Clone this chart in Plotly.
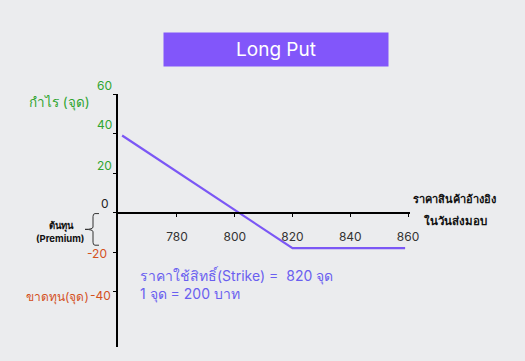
import plotly.graph_objects as go

# ---- data ----
price = [761, 820, 859]          # underlying price at expiry
payoff = [39, -18, -18]          # profit / loss in points
x_ticks = [780, 800, 820, 840, 860]
y_ticks = [60, 40, 20, 0, -20, -40]
y_tick_labels = ["60", "40", "20", "0", "-20", "-40"]
premium_top, premium_bottom = -0.5, -16.5

W, H = 525, 361
ML, MR, MT, MB = 118, 115, 94, 14
PW, PH = W - ML - MR, H - MT - MB

def px(xp):
    return (xp - ML) / PW

def py(yp):
    return (H - MB - yp) / PH

GREEN = "#30a530"
RED = "#d4511d"
PURPLE = "#7b57f5"
TEXTBLUE = "#6a5ff0"
FONT = "Inter, Noto Sans, sans-serif"

fig = go.Figure()
fig.add_trace(go.Scatter(x=price, y=payoff, mode="lines",
                         line=dict(color=PURPLE, width=2.2), hoverinfo="skip",
                         showlegend=False))

fig.update_layout(
    width=W, height=H,
    margin=dict(l=ML, r=MR, t=MT, b=MB, pad=0),
    paper_bgcolor="#ebecee", plot_bgcolor="#ebecee",
    font=dict(family=FONT, size=12, color="#333333"),
    xaxis=dict(range=[759.57, 860.69], tickvals=x_ticks, showgrid=False,
               zeroline=False, showline=True, linewidth=2, linecolor="black",
               ticks="outside", ticklen=3, tickcolor="black", tickwidth=1,
               anchor="free", position=68 / 128,
               ticklabelstandoff=10,
               tickfont=dict(size=12, color="#333333", family=FONT)),
    yaxis=dict(range=[-68, 60], tickvals=y_ticks, showgrid=False,
               zeroline=False, showline=True, linewidth=2, linecolor="black",
               ticks="outside", ticklen=3, tickcolor="black", tickwidth=1,
               showticklabels=False),
)

ann = []
# y tick labels
tick_colors = [GREEN, GREEN, GREEN, "#222222", RED, RED]
tick_yshift = [9, 9, 8, 9, -1.5, -4]
tick_xshift = [-5, -5, -5, -8, -10, -6]
for v, t, c, ys, xs in zip(y_ticks, y_tick_labels, tick_colors, tick_yshift, tick_xshift):
    ann.append(dict(x=0, xref="paper", y=v, yref="y", text=t, showarrow=False,
                    xanchor="right", yanchor="middle", xshift=xs, yshift=ys,
                    borderpad=0,
                    font=dict(size=12, color=c, family=FONT)))

# title box
ann.append(dict(x=px(276), y=py(49.5), xref="paper", yref="paper", text="Long Put",
                showarrow=False, xanchor="center", yanchor="middle",
                width=224, height=33, bgcolor="#8256fa", borderpad=0,
                font=dict(size=19, color="white", family=FONT)))

ann.append(dict(x=px(59), y=py(102.7), xref="paper", yref="paper", text="กำไร (จุด)",
                showarrow=False, xanchor="center", yanchor="middle",
                font=dict(size=13.5, color=GREEN, family=FONT)))
ann.append(dict(x=px(90), y=py(296.7), xref="paper", yref="paper", text="ขาดทุน(จุด)",
                showarrow=False, xanchor="right", yanchor="middle", borderpad=0,
                font=dict(size=12, color=RED, family=FONT)))

ann.append(dict(x=px(61), y=py(226.2), xref="paper", yref="paper", text="<b>ต้นทุน</b>",
                showarrow=False, xanchor="center", yanchor="middle",
                font=dict(size=9.5, color="#111111", family=FONT)))
ann.append(dict(x=px(60), y=py(238), xref="paper", yref="paper", text="<b>(Premium)</b>",
                showarrow=False, xanchor="center", yanchor="middle",
                font=dict(size=9.5, color="#111111", family=FONT)))

ann.append(dict(x=px(454), y=py(198.7), xref="paper", yref="paper",
                text="<b>ราคาสินค้าอ้างอิง</b>", showarrow=False,
                xanchor="center", yanchor="middle",
                font=dict(size=11, color="#111111", family=FONT)))
ann.append(dict(x=px(455), y=py(220.7), xref="paper", yref="paper",
                text="<b>ในวันส่งมอบ</b>", showarrow=False,
                xanchor="center", yanchor="middle",
                font=dict(size=11.5, color="#111111", family=FONT)))

ann.append(dict(x=px(138), y=py(284.2), xref="paper", yref="paper",
                text="ราคาใช้สิทธิ์(Strike) =  820 จุด<br>1 จุด = 200 บาท", showarrow=False,
                xanchor="left", yanchor="middle", align="left",
                font=dict(size=14, color=TEXTBLUE, family=FONT)))

fig.update_layout(annotations=ann)

# premium brace
mid = (premium_top + premium_bottom) / 2
fig.add_shape(type="path", xref="paper", yref="y", xsizemode="pixel", xanchor=0,
              path=(f"M -19,{premium_top} L -23,{premium_top} Q -25,{premium_top} -25,{premium_top-1.5} "
                    f"L -25,{mid+1.2} Q -25,{mid} -33,{mid} Q -25,{mid} -25,{mid-1.2} "
                    f"L -25,{premium_bottom+1.5} Q -25,{premium_bottom} -23,{premium_bottom} L -19,{premium_bottom}"),
              line=dict(color="#333333", width=1))

fig.write_html("out.html")
